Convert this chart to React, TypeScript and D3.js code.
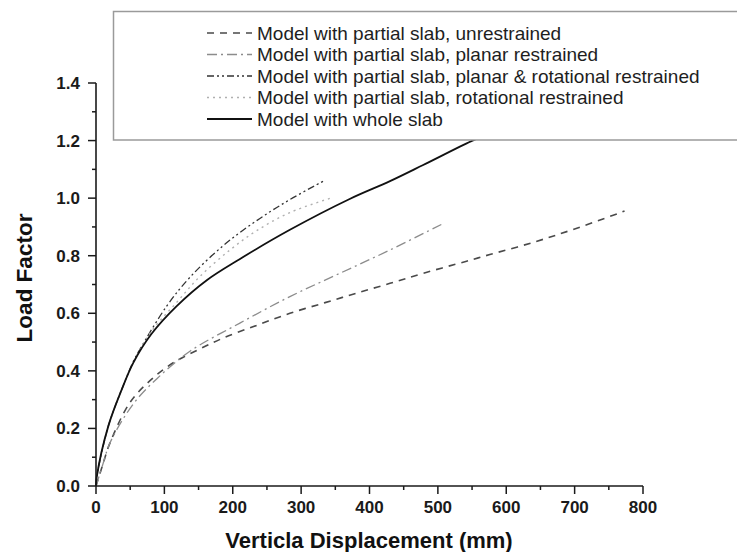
import React from "react";
import * as d3 from "d3";

// Load–displacement curves for the five slab models
const seriesNames = [
  "Model with partial slab, unrestrained",
  "Model with partial slab, planar restrained",
  "Model with partial slab, planar & rotational restrained",
  "Model with partial slab, rotational restrained",
  "Model with whole slab",
];

const unrestrainedX = [0, 10, 20.5, 49.7, 79, 113, 150, 186, 235, 283.6, 335, 381, 430, 478.5, 542, 576, 639, 700, 773];
const unrestrainedY = [0, 0.075, 0.15, 0.29, 0.366, 0.428, 0.474, 0.514, 0.558, 0.6, 0.637, 0.67, 0.704, 0.739, 0.781, 0.804, 0.846, 0.893, 0.955];

const planarX = [0, 10, 20.5, 54.5, 88.7, 137.4, 210.5, 283.6, 356.7, 430, 505.4];
const planarY = [0, 0.075, 0.15, 0.285, 0.372, 0.468, 0.566, 0.658, 0.739, 0.82, 0.909];

const planarRotX = [0, 1, 18, 37.6, 54.5, 64.3, 103.4, 137.4, 186, 235, 283.6, 334.8];
const planarRotY = [0, 0.03, 0.208, 0.335, 0.432, 0.475, 0.625, 0.725, 0.835, 0.922, 0.995, 1.062];

const rotationalX = [0, 1, 18, 37.6, 54.5, 81, 118, 152, 196, 235, 283.6, 342];
const rotationalY = [0, 0.03, 0.208, 0.335, 0.43, 0.537, 0.638, 0.728, 0.82, 0.887, 0.95, 0.999];

const wholeX = [0, 1, 18, 37.6, 54.5, 81, 118, 162, 210, 283.6, 371, 430, 478.5, 549, 590];
const wholeY = [0, 0.03, 0.208, 0.335, 0.428, 0.528, 0.625, 0.715, 0.788, 0.89, 0.997, 1.059, 1.115, 1.198, 1.24];

const xTicks = [0, 100, 200, 300, 400, 500, 600, 700, 800];
const xMinorTicks = [50, 150, 250, 350, 450, 550, 650, 750];
const yTicks = [0.0, 0.2, 0.4, 0.6, 0.8, 1.0, 1.2, 1.4];
const yMinorTicks = [0.1, 0.3, 0.5, 0.7, 0.9, 1.1, 1.3];

const xTitle = "Verticla Displacement (mm)";
const yTitle = "Load Factor";

type Style = { stroke: string; width: number; dash: string };
const styles: Style[] = [
  { stroke: "#4a4a4a", width: 1.6, dash: "7,6" },
  { stroke: "#8c8c8c", width: 1.3, dash: "10,4,2,4" },
  { stroke: "#333333", width: 1.3, dash: "7,3,2,3,2,3" },
  { stroke: "#b0b0b0", width: 1.4, dash: "2,4" },
  { stroke: "#111111", width: 1.8, dash: "" },
];

const seriesData: [number[], number[]][] = [
  [unrestrainedX, unrestrainedY],
  [planarX, planarY],
  [planarRotX, planarRotY],
  [rotationalX, rotationalY],
  [wholeX, wholeY],
];

const W = 737;
const H = 552;

export default function App() {
  const x = d3.scaleLinear().domain([0, 800]).range([96, 643]);
  const y = d3.scaleLinear().domain([0, 1.4]).range([486, 83]);

  const line = d3
    .line<[number, number]>()
    .x((d) => x(d[0]))
    .y((d) => y(d[1]))
    .curve(d3.curveCatmullRom.alpha(0.5));

  const axisColor = "#1a1a1a";
  const font = "Arial, 'Liberation Sans', Helvetica, sans-serif";

  const legendX = 113.5;
  const legendTop = 11.5;
  const legendBottom = 140;
  const rowY = (i: number) => 33 + i * 21.5;

  return (
    <svg
      width={W}
      height={H}
      viewBox={`0 0 ${W} ${H}`}
      style={{ position: "absolute", left: 0, top: 0, background: "#fff" }}
      fontFamily={font}
    >
      <rect x={0} y={0} width={W} height={H} fill="#fff" />

      {/* curves */}
      {seriesData.map(([xs, ys], i) => {
        const pts = xs.map((v, k) => [v, ys[k]] as [number, number]);
        return (
          <path
            key={i}
            d={line(pts) || ""}
            fill="none"
            stroke={styles[i].stroke}
            strokeWidth={styles[i].width}
            strokeDasharray={styles[i].dash || undefined}
            strokeLinejoin="round"
          />
        );
      })}

      {/* axes */}
      <line x1={x(0)} x2={x(800)} y1={y(0)} y2={y(0)} stroke={axisColor} strokeWidth={1.6} />
      <line x1={x(0)} x2={x(0)} y1={y(0)} y2={y(1.4)} stroke={axisColor} strokeWidth={1.6} />

      {xTicks.map((t) => (
        <g key={`xt${t}`}>
          <line x1={x(t)} x2={x(t)} y1={y(0)} y2={y(0) + 8} stroke={axisColor} strokeWidth={1.5} />
          <text
            x={x(t)}
            y={513}
            textAnchor="middle"
            fontSize={17}
            fontWeight="bold"
            fill="#1a1a1a"
          >
            {t}
          </text>
        </g>
      ))}
      {xMinorTicks.map((t) => (
        <line key={`xm${t}`} x1={x(t)} x2={x(t)} y1={y(0)} y2={y(0) + 4} stroke={axisColor} strokeWidth={1.5} />
      ))}
      {yTicks.map((t) => (
        <g key={`yt${t}`}>
          <line x1={x(0) - 8} x2={x(0)} y1={y(t)} y2={y(t)} stroke={axisColor} strokeWidth={1.5} />
          <text
            x={80}
            y={y(t) + 6}
            textAnchor="end"
            fontSize={17}
            fontWeight="bold"
            fill="#1a1a1a"
          >
            {t.toFixed(1)}
          </text>
        </g>
      ))}
      {yMinorTicks.map((t) => (
        <line key={`ym${t}`} x1={x(0) - 4} x2={x(0)} y1={y(t)} y2={y(t)} stroke={axisColor} strokeWidth={1.5} />
      ))}

      {/* axis titles */}
      <text
        x={369}
        y={548}
        textAnchor="middle"
        fontSize={22}
        fontWeight="bold"
        fill="#111"
      >
        {xTitle}
      </text>
      <text
        transform={`translate(31.5, 278) rotate(-90)`}
        textAnchor="middle"
        fontSize={22.5}
        fontWeight="bold"
        fill="#111"
      >
        {yTitle}
      </text>

      {/* legend */}
      <rect
        x={legendX}
        y={legendTop}
        width={W - legendX + 20}
        height={legendBottom - legendTop}
        fill="#fff"
        stroke="#9a9a9a"
        strokeWidth={1.5}
      />
      {seriesNames.map((name, i) => (
        <g key={`lg${i}`}>
          <line
            x1={207}
            x2={252}
            y1={rowY(i)}
            y2={rowY(i)}
            stroke={styles[i].stroke}
            strokeWidth={styles[i].width}
            strokeDasharray={styles[i].dash || undefined}
          />
          <text x={257} y={rowY(i) + 6.5} fontSize={19} fill="#1e1e1e">
            {name}
          </text>
        </g>
      ))}
    </svg>
  );
}
